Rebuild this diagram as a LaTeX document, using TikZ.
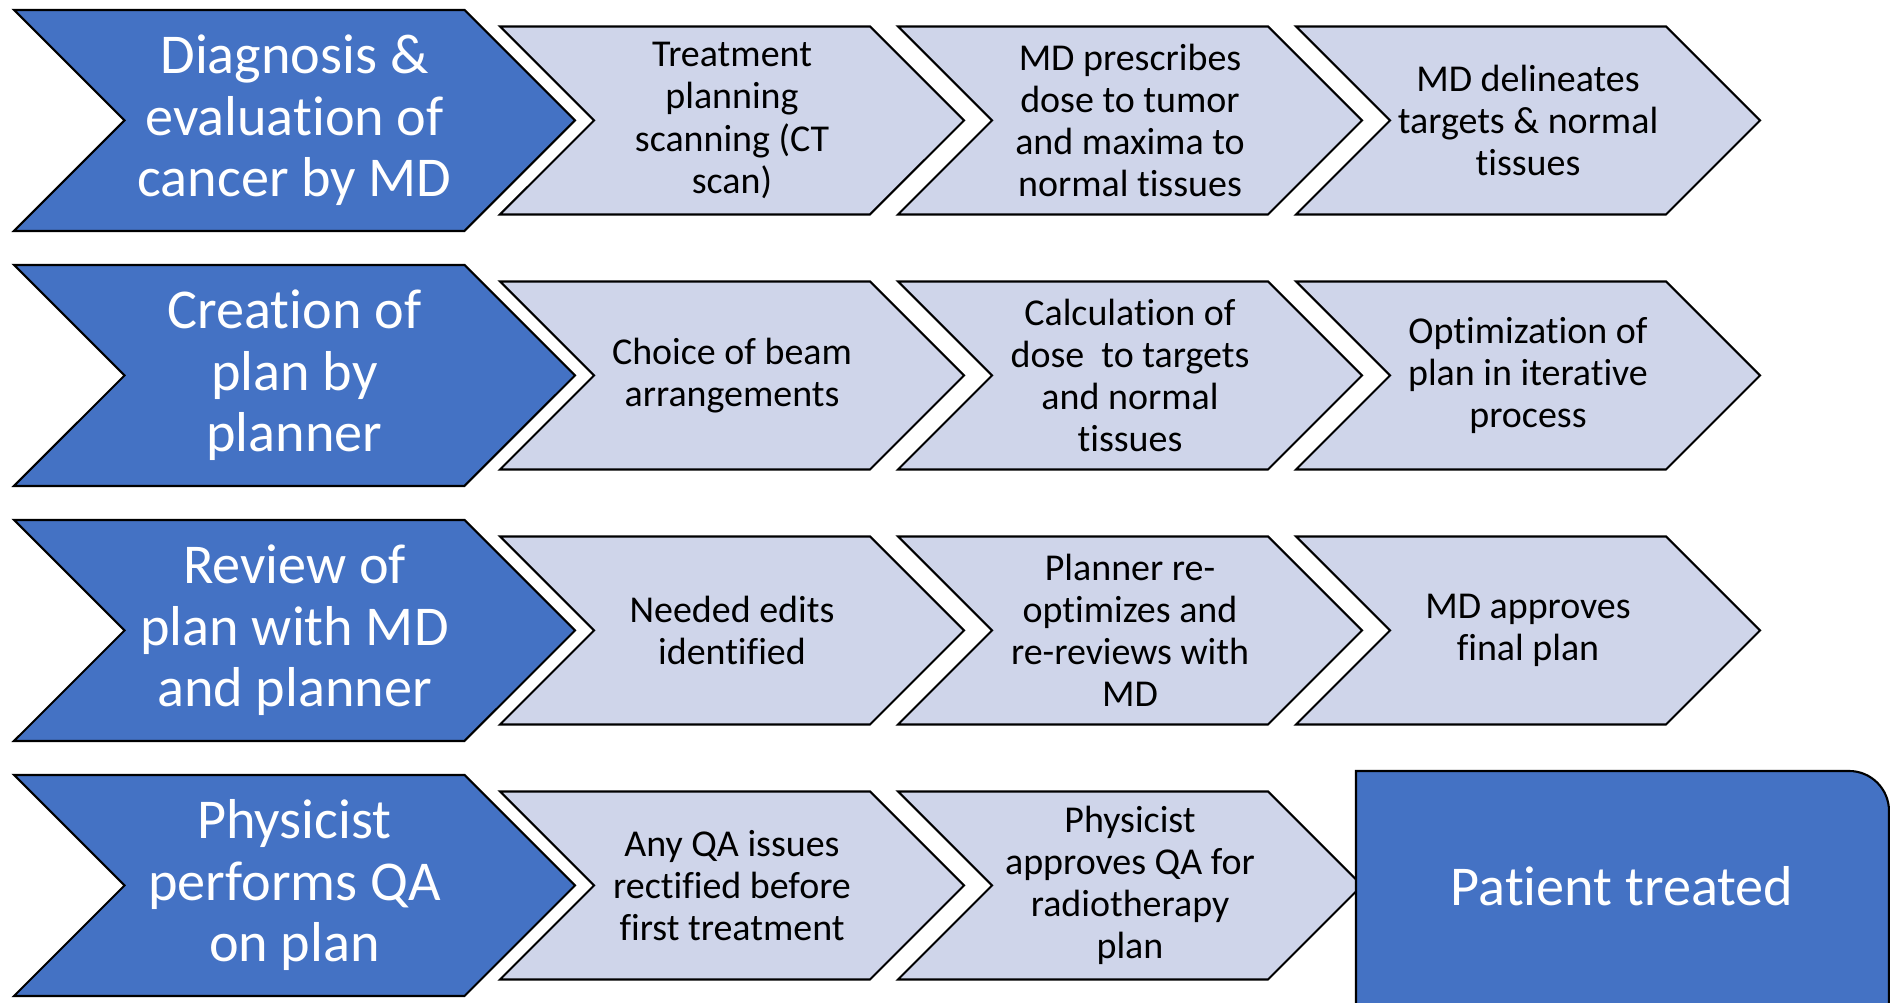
\documentclass[tikz,border=0pt]{standalone}
\usepackage{fontspec}
\setmainfont{Carlito}[Ligatures=NoCommon]
\usetikzlibrary{positioning,shapes.symbols}
\definecolor{stageblue}{HTML}{4472C4}
\definecolor{steplight}{HTML}{CFD5EA}
\begin{document}
\begin{tikzpicture}[
                    on grid,
                    bigchev/.style={signal, signal to=east, signal from=west, signal pointer angle=90,
                        draw=black, line width=0.6pt, fill=stageblue, text=white, align=center, inner sep=1pt,
                        minimum width=5.61cm, minimum height=2.21cm, font=\fontsize{16}{17.5}\selectfont},
                    smallchev/.style={signal, signal to=east, signal from=west, signal pointer angle=90,
                        draw=black, line width=0.6pt, fill=steplight, text=black, align=center, inner sep=1pt,
                        minimum width=4.64cm, minimum height=1.88cm, font=\fontsize{10.8}{12}\selectfont}
                ]
                \clip (0,0) rectangle (18.9,-10.03);
                % Stages
                \node [bigchev] (diag) at (2.945,-1.205) {Diagnosis \&\\evaluation of\\cancer by MD};
                \node [bigchev,below=2.55cm of diag] (create) {Creation of\\plan by\\planner};
                \node [bigchev,below=2.55cm of create] (review) {Review of\\plan with MD\\and planner};
                \node [bigchev,below=2.55cm of review] (qa) {Physicist\\performs QA\\on plan};

                % Steps
                \node [smallchev,right=4.375cm of diag] (scan) {Treatment\\planning\\scanning (CT\\scan)};
                \node [smallchev,right=3.98cm of scan] (prescribe) {MD prescribes\\dose to tumor\\and maxima to\\normal tissues};
                \node [smallchev,right=3.98cm of prescribe] (delineate) {MD delineates\\targets \& normal\\tissues};

                \node [smallchev,right=4.375cm of create] (beams) {Choice of beam\\arrangements};
                \node [smallchev,right=3.98cm of beams] (calc) {Calculation of\\dose~ to targets\\and normal\\tissues};
                \node [smallchev,right=3.98cm of calc] (optim) {Optimization of\\plan in iterative\\process};

                \node [smallchev,right=4.375cm of review] (edits) {Needed edits\\identified};
                \node [smallchev,right=3.98cm of edits] (reopt) {Planner re-\\optimizes and\\re-reviews with\\MD};
                \node [smallchev,right=3.98cm of reopt] (approve) {MD approves\\final plan};

                \node [smallchev,right=4.375cm of qa] (rectify) {Any QA issues\\rectified before\\first treatment};
                \node [smallchev,right=3.98cm of rectify] (qaok) {Physicist\\approves QA for\\radiotherapy\\plan};

                % Final box
                \draw [line width=0.6pt, fill=stageblue] (13.56,-10.3) -- (13.56,-7.71) -- (18.49,-7.71)
                    arc[start angle=90, end angle=0, radius=0.4] -- (18.89,-10.3) -- cycle;
                \node [text=white, font=\fontsize{16}{17.5}\selectfont] (treated) at (16.22,-8.86) {Patient treated};
            \end{tikzpicture}
\end{document}
